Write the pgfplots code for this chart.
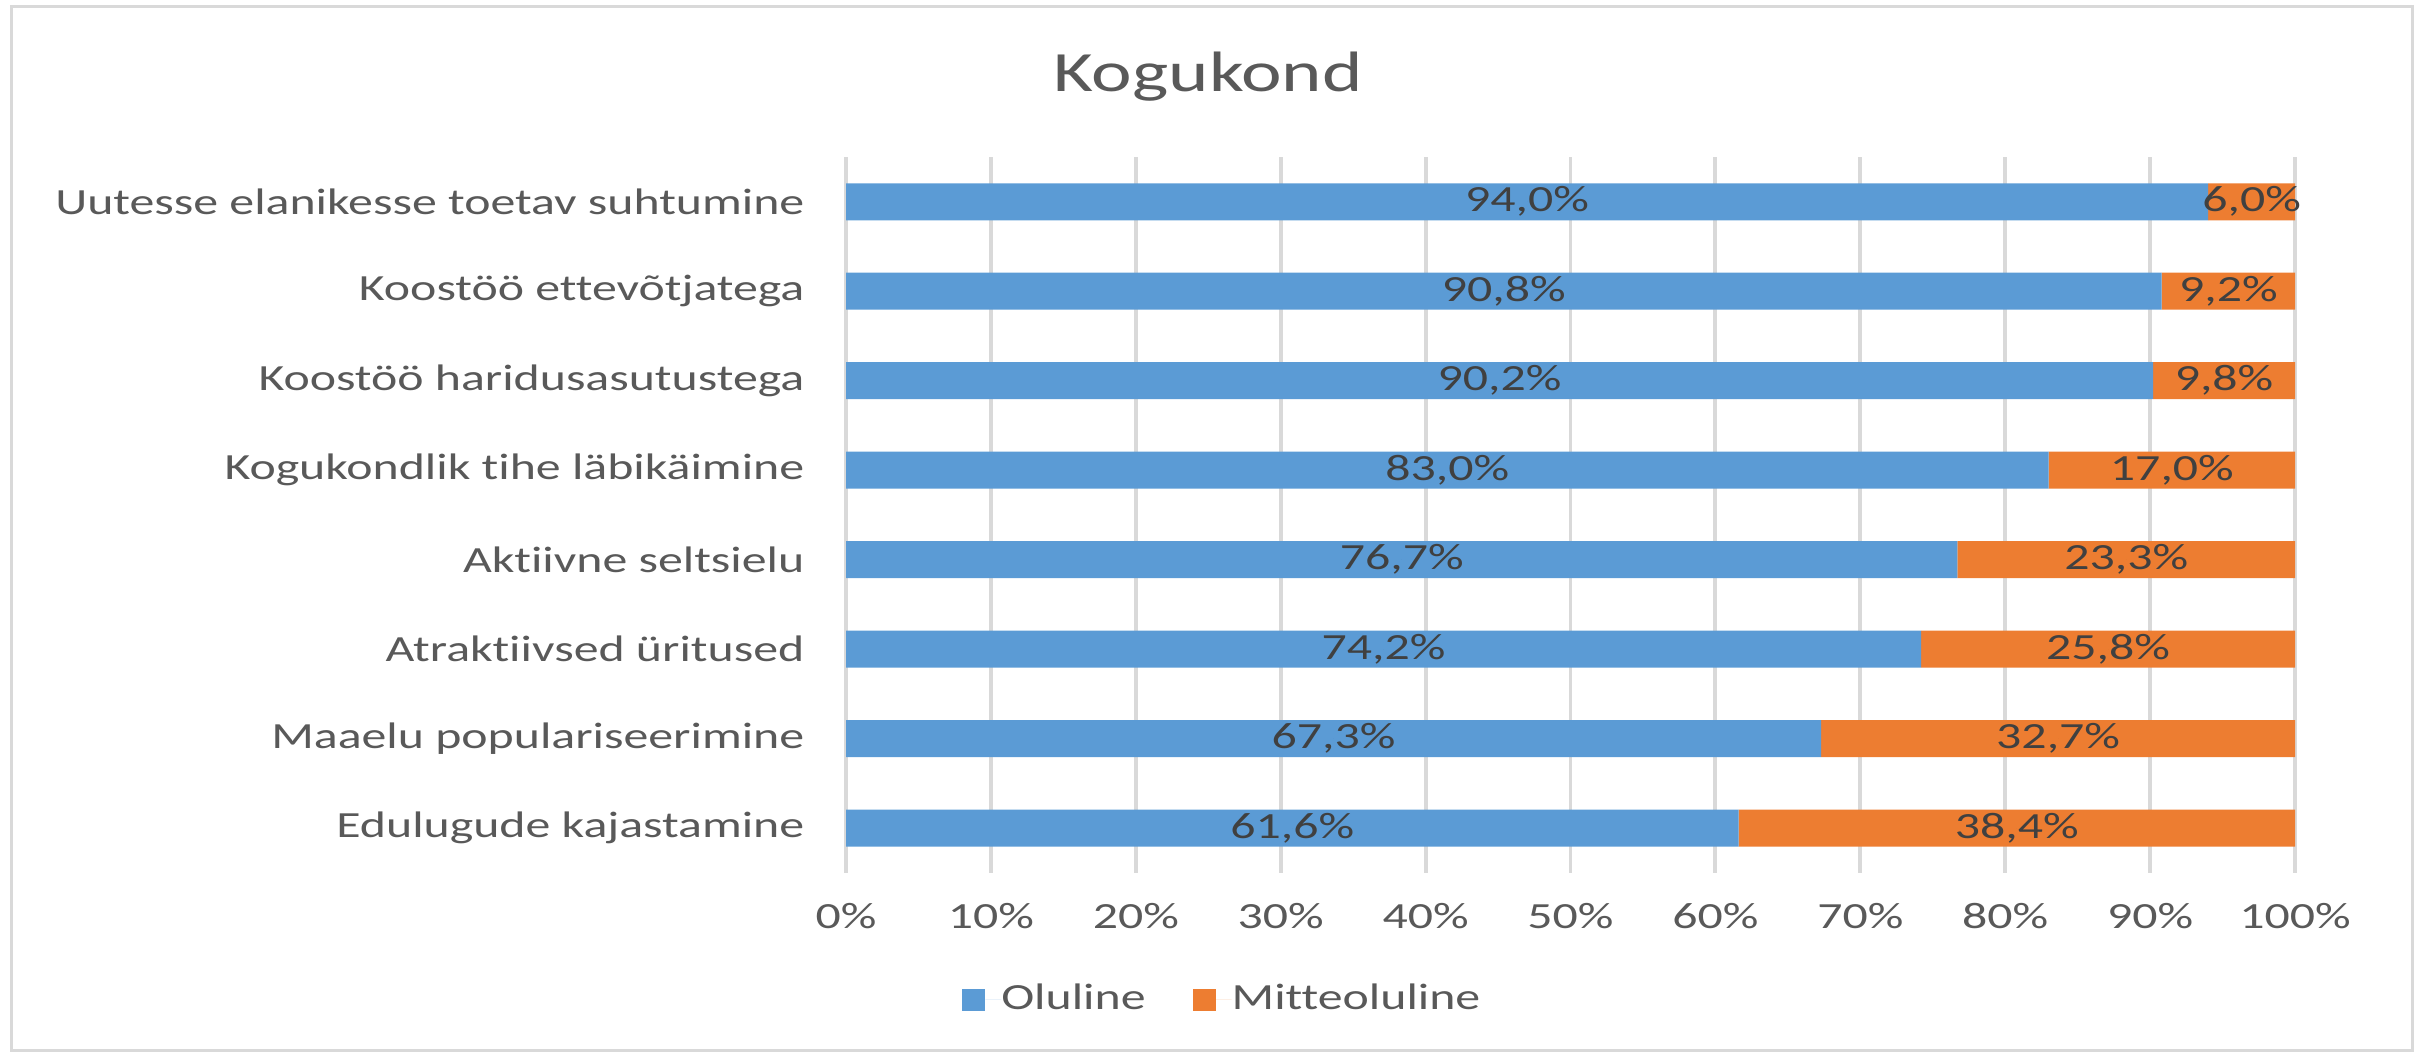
\documentclass[border=0pt]{standalone}
\usepackage{fontspec}
\setmainfont[FakeStretch=1.35, RawFeature={-liga;-clig;-calt;-dlig}]{Carlito}
\usepackage{pgfplots}
\usepackage{pgfplotstable}
\pgfplotsset{compat=1.18}
\definecolor{cblue}{HTML}{5B9BD5}
\definecolor{corange}{HTML}{ED7D31}
\definecolor{gridgray}{HTML}{D9D9D9}
\definecolor{labgray}{HTML}{595959}
\definecolor{valgray}{HTML}{404040}
\pgfplotstableread{
y a b
0 61.6 38.4
1 67.3 32.7
2 74.2 25.8
3 76.7 23.3
4 83.0 17.0
5 90.2 9.8
6 90.8 9.2
7 94.0 6.0
}\data
\begin{document}
\begin{tikzpicture}
\path (0,0) rectangle (24.17,-10.54);
\draw[gridgray, line width=0.03cm] (0.11,-0.07) rectangle (24.12,-10.50);
\node[anchor=base, text=labgray, font=\fontsize{16.2}{19}\selectfont] at (12.08,-0.92) {Kogukond};
\begin{axis}[
  at={(8.46cm,-1.57cm)}, anchor=north west,
  scale only axis, width=14.49cm, height=7.16cm,
  xbar stacked, bar width=0.37cm,
  xmin=0, xmax=100, ymin=-0.5, ymax=7.5,
  xtick={0,10,...,100},
  /pgf/number format/assume math mode=true,
  xticklabel={\pgfmathprintnumber{\tick}\%},
  ytick={0,...,7},
  yticklabels={Edulugude kajastamine, Maaelu populariseerimine, Atraktiivsed üritused, Aktiivne seltsielu, Kogukondlik tihe läbikäimine, Koostöö haridusasutustega, Koostöö ettevõtjatega, Uutesse elanikesse toetav suhtumine},
  axis line style={draw=none},
  major tick length=0pt,
  xmajorgrids, grid style={color=gridgray, line width=1.1pt},
  tick label style={font=\fontsize{10.5}{12}\selectfont, text=labgray},
  yticklabel style={anchor=east, inner sep=0pt, xshift=-0.41cm},
  xticklabel style={anchor=base, inner sep=0pt, yshift=-0.56cm},
  legend style={at={(0.259,-0.177)}, anchor=center, draw=none, fill=none,
    legend columns=2, font=\fontsize{10.5}{12}\selectfont, text=labgray,
    nodes={inner xsep=0pt},
    /tikz/every even column/.append style={column sep=0.47cm}},
  legend image code/.code={\fill[#1] (0cm,-0.11cm) rectangle (0.23cm,0.11cm); \path (0.23cm,0) -- (0.39cm,0);},
]
\addplot[fill=cblue, draw=none] table[x=a, y=y] {\data};
\addplot[fill=corange, draw=none] table[x=b, y=y] {\data};
\legend{Oluline, Mitteoluline}
\end{axis}
\begin{axis}[
  at={(8.46cm,-1.57cm)}, anchor=north west,
  scale only axis, width=14.49cm, height=7.16cm,
  xmin=0, xmax=100, ymin=-0.5, ymax=7.5,
  hide axis,
  /pgf/number format/assume math mode=true,
  point meta=explicit,
  nodes near coords={\pgfmathprintnumber[fixed, fixed zerofill, precision=1, use comma]{\pgfplotspointmeta}\%},
  nodes near coords align={center},
  every node near coord/.append style={anchor=center, font=\fontsize{10.5}{12}\selectfont, text=valgray},
]
\addplot[only marks, mark=*, mark size=0pt, mark options={draw=none, fill=none}] table[x expr=\thisrow{a}/2, y=y, meta=a] {\data};
\addplot[only marks, mark=*, mark size=0pt, mark options={draw=none, fill=none}] table[x expr=\thisrow{a}+\thisrow{b}/2, y=y, meta=b] {\data};
\end{axis}
\end{tikzpicture}
\end{document}
